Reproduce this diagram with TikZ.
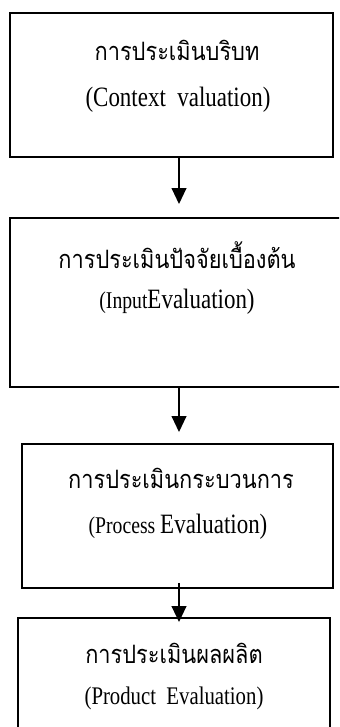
\documentclass[tikz,border=0pt]{standalone}
\usepackage{fontspec}
\setmainfont[FakeStretch=0.82]{Liberation Serif}
\newfontfamily\thaifont[Script=Thai,FakeStretch=0.86]{Loma}
\usetikzlibrary{arrows.meta,calc,positioning}

\begin{document}
\begin{tikzpicture}[x=0.75pt,y=-0.75pt,
  stage/.style={draw,line width=1.4pt,inner sep=0pt},
  thai/.style={font=\thaifont\fontsize{19}{22}\selectfont,inner sep=0pt},
  eng/.style={font=\fontsize{21}{24}\selectfont,inner sep=0pt},
  flow/.style={line width=1.4pt,-{Triangle[length=12pt,width=11pt]}}]
\clip (0,0) rectangle (339,727);
\node[stage,minimum width=242.25pt,minimum height=108pt] (context) at (171.5,85) {};
\node[stage,minimum width=248.25pt,minimum height=126.75pt] (input) at (175.5,302.5) {};
\node[stage,minimum width=233.25pt,minimum height=108pt] (process) at (177.5,516) {};
\node[stage,minimum width=234pt,minimum height=91.5pt] (product) at (174,679) {};

\node[thai] (contextth) at (177,50) {การประเมินบริบท};
\node[eng] (contexten) at (178,100) {(Context\ \ valuation)};
\node[thai] (inputth) at (177,255) {การประเมินปัจจัยเบื้องต้น};
\node[eng] (inputen) at (177,302) {{\fontsize{18}{21}\selectfont(Input}Evaluation)};
\node[thai] (processth) at (181,478) {การประเมินกระบวนการ};
\node[eng] (processen) at (178,527) {{\fontsize{18}{21}\selectfont(Process }Evaluation)};
\node[thai] (productth) at (174,653) {การประเมินผลผลิต};
\node[eng,font=\fontsize{19}{22}\selectfont] (producten) at (174,698) {(Product\ \ Evaluation)};

\coordinate (axis) at (179,0);
\draw[flow,shorten >=9.75pt] (context.south -| axis) -- (input.north -| axis);
\draw[flow,shorten >=8.25pt] (input.south -| axis) -- (process.north -| axis);
\draw[flow,shorten <=-4.5pt,shorten >=-3.75pt] (process.south -| axis) -- (product.north -| axis);
\end{tikzpicture}
\end{document}
